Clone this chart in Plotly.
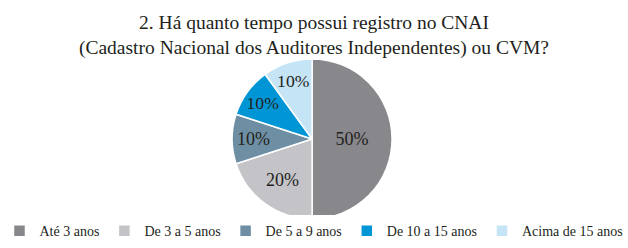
import plotly.graph_objects as go

categories = ["Até 3 anos", "De 3 a 5 anos", "De 5 a 9 anos", "De 10 a 15 anos", "Acima de 15 anos"]
values = [50, 20, 10, 10, 10]
colors = ["#88878b", "#c4c4c8", "#6e8fa3", "#0096d6", "#c5e4f5"]

fig = go.Figure(go.Pie(
    labels=categories,
    values=values,
    sort=False,
    direction="clockwise",
    rotation=0,
    marker=dict(colors=colors, line=dict(color="white", width=1.5)),
    texttemplate="%{percent:.0%}",
    textposition="inside",
    insidetextorientation="horizontal",
    textfont=dict(family="Liberation Serif", size=18, color="#231f20"),
    domain=dict(x=[0, 0.994], y=[0.117, 0.762]),
    showlegend=True,
))

fig.update_layout(
    width=628, height=248,
    margin=dict(l=0, r=0, t=0, b=0),
    paper_bgcolor="white",
    plot_bgcolor="white",
    font=dict(family="Liberation Serif", color="#231f20"),
    title=dict(
        text="2. Há quanto tempo possui registro no CNAI<br>(Cadastro Nacional dos Auditores Independentes) ou CVM?",
        x=0.5, xanchor="center", y=0.885, yanchor="bottom",
        font=dict(family="Liberation Serif", size=19.5, color="#231f20"),
    ),
    legend=dict(
        orientation="h", x=0.5, xanchor="center", y=0.068, yanchor="middle",
        font=dict(family="Liberation Serif", size=14, color="#231f20"),
        itemwidth=30, tracegroupgap=0,
    ),
)

fig.write_html("out.html")
